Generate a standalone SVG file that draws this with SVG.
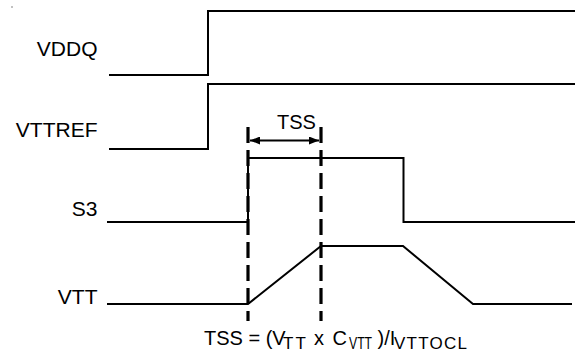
<svg xmlns="http://www.w3.org/2000/svg" width="575" height="352" viewBox="0 0 575 352">
<style>
.lbl{font-family:"Liberation Sans",Arial,sans-serif;font-size:21px;fill:#000;text-anchor:end}
.txt{font-family:"Liberation Sans",Arial,sans-serif;font-size:20px;fill:#000}
.sub{font-family:"Liberation Sans",Arial,sans-serif;font-size:17px;fill:#000}
.wave{fill:none;stroke:#000;stroke-width:2;stroke-linejoin:miter}
.dash{fill:none;stroke:#000;stroke-width:3.2;stroke-dasharray:16 7}
</style>
<defs>
<marker id="ah" viewBox="0 0 10 8" refX="10" refY="4" markerWidth="10" markerHeight="8" markerUnits="userSpaceOnUse" orient="auto-start-reverse">
<path d="M0,0 L10,4 L0,8 Z" fill="#000"/>
</marker>
</defs>
<rect width="575" height="352" fill="#fff"/>
<circle cx="12" cy="7" r="0.7" fill="#555"/>
<g id="vddq">
<text class="lbl" x="97.5" y="56">VDDQ</text>
<path class="wave" d="M109,75 H208 V11 H575"/>
</g>
<g id="vttref">
<text class="lbl" x="97.5" y="137">VTTREF</text>
<path class="wave" d="M109,149 H208 V84 H575"/>
</g>
<g id="s3">
<text class="lbl" x="97.5" y="216">S3</text>
<path class="wave" d="M107,222 H248 V158 H403.5 V222 H575"/>
</g>
<g id="vtt">
<text class="lbl" x="97.5" y="304">VTT</text>
<path class="wave" d="M107,304 H248 L321,246 H403 L473,304 H572"/>
</g>
<g id="connectors">
<line class="dash" x1="248" y1="127" x2="248" y2="321"/>
<line class="dash" x1="321" y1="127" x2="321" y2="321"/>
<line x1="250" y1="140.5" x2="319" y2="140.5" stroke="#000" stroke-width="2" marker-start="url(#ah)" marker-end="url(#ah)"/>
</g>
<g id="tss-label">
<text class="txt" x="277" y="129">TSS</text>
</g>
<g id="formula">
<text class="txt" y="344.5"><tspan x="204">TSS = (V</tspan><tspan class="sub" x="283" y="348.5" textLength="23" lengthAdjust="spacing">TT</tspan><tspan x="314" y="344.5">x</tspan><tspan x="332.5">C</tspan></text>
<text class="sub" transform="translate(349,348.5) scale(0.72,1)">VTT</text>
<text class="txt" y="344.5"><tspan x="377.5">)/I</tspan><tspan class="sub" x="394" y="348.5" textLength="73" lengthAdjust="spacing">VTTOCL</tspan></text>
</g>
</svg>
